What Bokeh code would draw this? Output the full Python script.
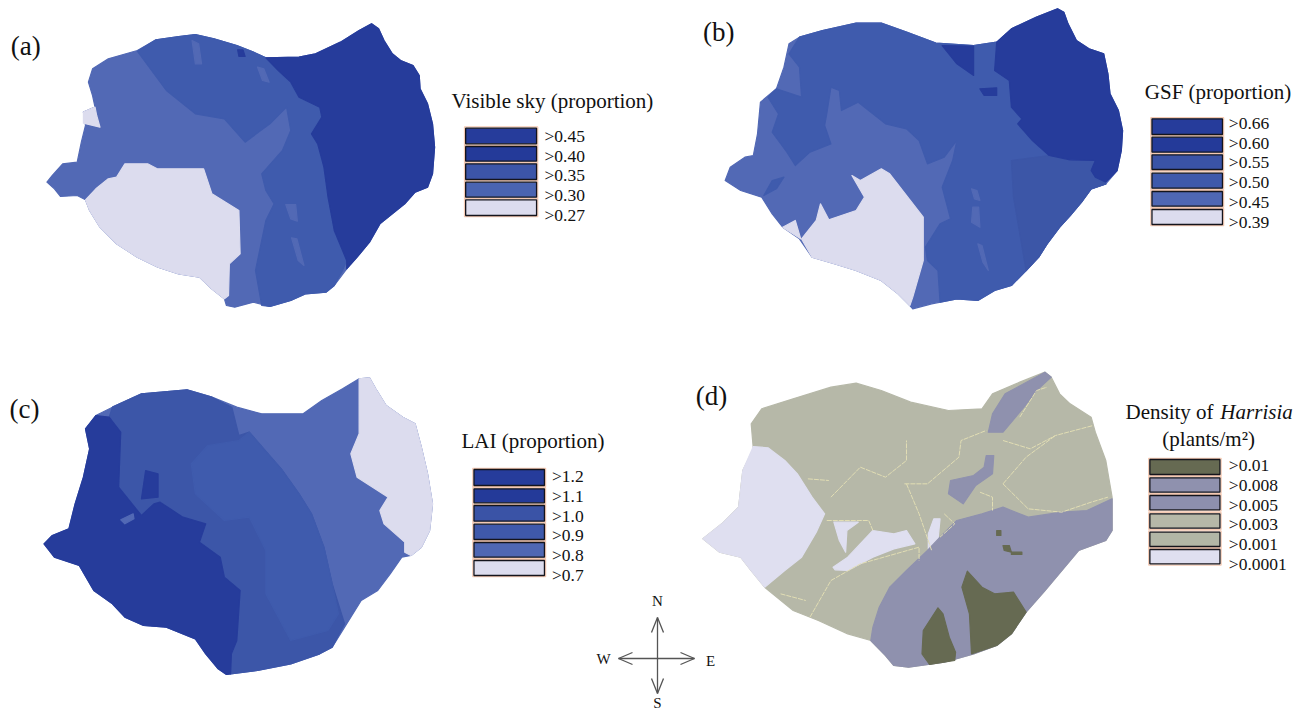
from bokeh.plotting import figure
from bokeh.models import Range1d
from bokeh.embed import file_html
from bokeh.resources import INLINE
from bokeh.core.properties import value

DARK, DEEP, MID, MID2, LIGHT, PALE = "#263c9b", "#243a99", "#3c56a8", "#3f5bad", "#5269b5", "#dcdcee"
SAGE, LAV, OLIVE, TRAIL = "#b6b8a8", "#8f91ae", "#666a52", "#e2deb4"
SERIF = "Liberation Serif"

# ---------- legends ----------
legend_a_labels = [">0.45", ">0.40", ">0.35", ">0.30", ">0.27"]
legend_a_colors = [DARK, DEEP, "#3c55a8", "#4a64b1", PALE]
legend_b_labels = [">0.66", ">0.60", ">0.55", ">0.50", ">0.45", ">0.39"]
legend_b_colors = [DARK, DEEP, "#3a53a6", "#3f59ab", "#4f67b3", PALE]
legend_c_labels = [">1.2", ">1.1", ">1.0", ">0.9", ">0.8", ">0.7"]
legend_c_colors = [DARK, DEEP, "#3a53a6", "#3f59ab", "#4f67b3", PALE]
legend_d_labels = [">0.01", ">0.008", ">0.005", ">0.003", ">0.001", ">0.0001"]
legend_d_colors = [OLIVE, LAV, "#8d8fae", SAGE, "#b2b6a6", "#dfdff0"]

# ---------- map regions (crop units) ----------
a_outline = [(895,70),(912,85),(925,120),(945,160),(965,180),(995,195),(1010,225),(1012,265),(1030,310),(1042,370),(1047,440),(1042,520),(1030,560),(1000,575),(975,610),(945,640),(915,670),(890,725),(860,770),(835,805),(805,855),(785,875),(735,880),(700,900),(650,918),(610,905),(565,920),(545,915),(540,895),(505,860),(480,830),(430,820),(380,800),(330,770),(280,730),(240,680),(215,630),(205,598),(185,585),(145,588),(130,565),(112,545),(125,525),(150,490),(185,485),(195,425),(205,375),(200,335),(228,320),(222,285),(212,245),(222,205),(260,175),(330,150),(375,118),(430,108),(470,102),(515,115),(570,135),(610,155),(640,172),(720,170),(760,160),(820,125),(865,90)]
a_mid = [(330,152),(375,118),(430,108),(470,102),(515,115),(570,135),(610,155),(640,172),(670,210),(700,250),(720,290),(770,320),(775,350),(750,395),(765,430),(780,500),(790,590),(805,690),(835,780),(825,810),(805,855),(785,875),(735,880),(700,900),(650,918),(630,915),(615,810),(640,660),(660,610),(640,570),(630,520),(680,450),(700,390),(690,320),(650,370),(590,425),(540,355),(470,340),(400,270)]
a_dark = [(640,172),(720,170),(760,160),(820,125),(865,90),(895,70),(912,85),(925,120),(945,160),(965,180),(995,195),(1010,225),(1012,265),(1030,310),(1042,370),(1047,440),(1042,520),(1030,560),(1000,575),(975,610),(945,640),(915,670),(890,725),(860,770),(835,805),(835,780),(805,690),(790,590),(780,500),(765,430),(750,400),(775,350),(770,320),(720,290),(700,245),(670,210)]
a_pale = [(300,490),(355,490),(378,505),(490,505),(510,580),(575,630),(578,760),(552,790),(550,885),(540,895),(505,860),(480,830),(430,820),(380,800),(330,770),(280,730),(240,680),(215,630),(205,598),(230,565),(260,535),(280,530)]
a_pale2 = [(200,335),(228,320),(232,345),(240,380),(200,368)]
a_slit1 = [(462,120),(478,130),(485,190),(470,190)]
a_slit2 = [(620,200),(635,205),(648,245),(632,240)]
a_slit3 = [(702,712),(715,715),(732,795),(718,780)]
a_slit4 = [(688,612),(712,612),(716,662),(700,655)]
a_spot = [(572,148),(585,148),(590,168),(575,168)]

b_outline = [(970,25),(985,35),(995,70),(1015,120),(1045,145),(1080,160),(1090,220),(1095,280),(1115,330),(1125,390),(1122,450),(1112,510),(1085,550),(1050,565),(1030,600),(1000,645),(975,680),(945,730),(925,770),(895,810),(860,855),(820,870),(780,900),(730,895),(670,910),(625,925),(618,915),(590,880),(550,840),(490,810),(440,790),(385,770),(355,715),(315,680),(290,640),(265,590),(215,570),(178,540),(190,500),(225,470),(245,465),(255,400),(262,305),(300,265),(318,200),(330,130),(355,110),(410,90),(490,68),(550,68),(610,95),(680,128),(770,135),(825,125),(860,85),(920,50)]
b_mid = [(355,110),(410,90),(490,68),(550,68),(610,95),(680,128),(770,135),(825,125),(855,240),(860,320),(885,355),(875,370),(910,420),(950,465),(1000,478),(1060,480),(1050,510),(1060,530),(1085,550),(1050,565),(1030,600),(1000,645),(975,680),(945,730),(925,770),(895,810),(860,855),(820,870),(780,900),(730,895),(690,905),(685,810),(660,780),(655,740),(690,670),(715,655),(695,560),(720,480),(730,420),(700,470),(660,490),(640,420),(610,385),(560,370),(495,305),(455,330),(450,270),(430,260),(420,340),(415,375),(430,430),(380,455),(345,495),(325,455),(290,395),(305,340),(280,290),(300,265),(360,290),(355,200),(330,160)]
b_mid2 = [(860,480),(950,465),(1000,478),(1060,480),(1050,510),(1060,530),(1085,550),(1050,565),(1030,600),(1000,645),(975,680),(945,730),(925,770),(895,810),(880,700),(865,590)]
b_dark = [(825,125),(860,85),(920,50),(970,25),(985,35),(995,70),(1015,120),(1045,145),(1080,160),(1090,220),(1095,280),(1115,330),(1125,390),(1122,450),(1112,510),(1085,545),(1060,530),(1050,510),(1060,480),(1000,478),(950,465),(910,420),(875,370),(885,355),(860,320),(855,240),(820,210)]
b_dark2 = [(695,135),(770,137),(770,225),(730,190)]
b_dark3 = [(785,265),(825,262),(825,285),(795,285)]
b_slit = [(270,585),(290,540),(318,530),(300,565)]
b_pale = [(480,525),(500,540),(550,505),(570,520),(650,650),(650,780),(625,890),(618,915),(590,880),(550,840),(490,810),(440,790),(385,770),(360,715),(395,660),(405,610),(425,658),(490,630),(510,590)]
b_pale2 = [(315,680),(345,660),(358,715)]
b_sliv1 = [(780,730),(790,735),(805,810),(792,785)]
b_sliv2 = [(765,565),(778,570),(785,600),(772,595)]
b_sliv3 = [(768,620),(782,620),(785,680),(765,665)]

c_outline = [(865,55),(890,52),(905,85),(930,135),(970,170),(1000,190),(1015,260),(1030,340),(1042,430),(1035,510),(1015,560),(990,585),(968,590),(940,640),(910,690),(870,720),(830,800),(800,860),(770,880),(700,910),(620,930),(545,942),(525,925),(495,880),(470,835),(400,800),(345,795),(300,770),(270,730),(225,690),(190,615),(130,590),(105,550),(125,525),(165,505),(180,430),(200,350),(215,265),(205,205),(230,165),(270,140),(340,100),(450,88),(510,110),(570,140),(630,160),(730,160),(775,120),(825,85)]
c_mid = [(262,170),(270,140),(340,100),(450,88),(510,110),(558,140),(575,225),(600,215),(680,330),(720,400),(750,460),(780,560),(800,670),(830,790),(800,860),(770,880),(700,910),(620,930),(555,940),(557,880),(570,840),(578,690),(540,650),(530,590),(480,545),(495,490),(440,470),(385,425),(370,430),(340,465),(285,380),(290,215)]
c_mid2 = [(460,310),(500,255),(575,240),(600,215),(680,330),(720,400),(750,460),(780,560),(800,670),(815,760),(790,810),(700,840),(640,700),(640,570),(600,470),(540,480),(470,400)]
c_dark = [(230,165),(262,170),(290,215),(285,380),(340,465),(370,430),(385,425),(440,470),(495,490),(480,545),(530,590),(540,650),(578,690),(570,840),(557,880),(555,940),(545,942),(525,925),(495,880),(470,835),(400,800),(345,795),(300,770),(270,730),(225,690),(190,615),(130,590),(105,550),(125,525),(165,505),(180,430),(200,350),(215,265),(205,205)]
c_dark2 = [(350,330),(380,340),(380,410),(340,415)]
c_light = [(290,478),(320,460),(322,475),(300,490)]
c_pale = [(865,55),(890,52),(905,85),(930,135),(970,170),(1000,190),(1015,260),(1030,340),(1042,430),(1035,510),(1015,560),(990,585),(975,575),(975,545),(925,490),(915,450),(935,410),(860,350),(845,280),(865,220)]

d_outline = [(940,35),(955,50),(975,100),(1000,130),(1050,170),(1060,215),(1085,300),(1100,410),(1100,510),(1085,540),(1020,570),(980,630),(940,690),(895,755),(860,820),(825,855),(770,880),(700,905),(615,920),(580,915),(560,885),(525,840),(470,820),(400,780),(340,750),(272,680),(240,630),(215,590),(165,575),(125,535),(170,490),(210,440),(220,330),(245,265),(240,190),(265,145),(340,115),(430,80),(490,68),(550,90),(620,125),(710,150),(790,145),(815,100),(880,65)]
d_pale = [(245,258),(280,262),(320,300),(350,340),(385,410),(415,460),(395,515),(360,590),(320,630),(272,680),(240,630),(215,590),(165,575),(125,535),(170,490),(210,440),(220,330)]
d_pale2 = [(435,620),(470,590),(530,510),(580,520),(610,510),(630,550),(580,565),(530,590),(470,630),(440,628)]
d_pale3 = [(437,485),(495,485),(468,510),(465,575),(450,540)]
d_pale4 = [(675,475),(690,475),(685,540),(662,565),(662,520)]
d_lav = [(1100,415),(1100,510),(1085,540),(1020,570),(980,630),(940,690),(895,755),(860,820),(825,855),(770,880),(700,905),(615,920),(580,915),(560,885),(525,840),(530,800),(545,740),(570,680),(610,630),(660,570),(690,530),(730,480),(790,460),(840,440),(900,470),(980,455),(1040,450)]
d_lav2 = [(940,35),(955,50),(920,90),(890,140),(840,215),(805,215),(815,160),(845,100)]
d_lav3 = [(800,285),(818,285),(815,340),(775,375),(745,430),(710,400),(715,360),(770,345),(795,320)]
d_olive = [(755,632),(790,680),(820,700),(865,695),(895,755),(860,820),(825,855),(765,880),(760,760),(742,680)]
d_olive2 = [(685,742),(697,760),(712,830),(727,875),(725,900),(665,912),(647,880),(650,810)]
d_olive3 = [(825,510),(835,510),(835,525),(825,525)]
d_olive4 = [(840,555),(855,555),(860,575),(843,570)]
d_olive5 = [(860,575),(885,575),(885,582),(860,582)]
d_trails = [
    [(375,355),(425,360)],
    [(430,410),(500,320),(560,350),(610,300),(610,240)],
    [(605,370),(660,370),(735,290),(740,240),(800,210)],
    [(840,240),(905,265),(965,225),(1055,195)],
    [(840,370),(895,290),(965,225)],
    [(840,370),(900,445),(980,455),(1050,425),(1090,410)],
    [(785,395),(815,410),(815,450)],
    [(610,370),(640,460),(670,570)],
    [(700,460),(725,490),(690,530)],
    [(310,700),(370,720)],
    [(380,770),(430,660),(500,610),(640,560),(640,600)],
    [(420,480),(520,480),(530,510)],
    [(880,170),(920,90),(945,80)],
]

# crop window: (offset x, offset y, x units per pixel, y units per pixel)
VIEW_A, VIEW_B = (0, 0, 2.412, 3.0), (650, 0, 2.383, 3.0)
VIEW_C, VIEW_D = (0, 360, 2.412, 3.0), (650, 360, 2.383, 3.0)

def X(v, x): return v[0] + x / v[2]
def Y(v, y): return v[1] + y / v[3]

p = figure(width=1300, height=712, x_range=Range1d(0, 1300), y_range=Range1d(712, 0),
           output_backend="svg", toolbar_location=None, min_border=0, outline_line_color=None)
p.axis.visible = False
p.grid.visible = False

def region(v, pts, color):
    xs = [X(v, a) for a, _ in pts]
    ys = [Y(v, b) for _, b in pts]
    p.patch(xs, ys, fill_color=color, line_color=color, line_width=1.2, line_join="round")

def legend(v, left, right, tops, bottoms, colors, labels, label_x, label_y):
    L, R = X(v, left), X(v, right)
    T = [Y(v, t) for t in tops]
    B = [Y(v, b) for b in bottoms]
    p.quad(left=L - 1.2, right=R + 1.2, top=[t - 1.2 for t in T], bottom=[b + 1.2 for b in B],
           fill_color=None, line_color="#f4c9b2", line_width=1.2)
    p.quad(left=L, right=R, top=T, bottom=B, fill_color=colors, line_color="#14141c", line_width=1.3)
    p.text(x=[X(v, label_x)] * len(labels), y=[Y(v, y) for y in label_y], text=labels,
           text_font=value(SERIF), text_font_size="17.5px", text_baseline="middle", text_color="#111111")

def label(v, x, y, s, size="17.5px", style="normal", align="left"):
    p.text(x=[X(v, x)], y=[Y(v, y)], text=[s], text_font=value(SERIF), text_font_size=size,
           text_font_style=style, text_baseline="middle", text_align=align, text_color="#111111")

# panel a
for pts, col in [(a_outline, LIGHT), (a_mid, MID2), (a_dark, DARK), (a_pale, PALE), (a_pale2, PALE),
                 (a_slit1, LIGHT), (a_slit2, LIGHT), (a_slit3, LIGHT), (a_slit4, LIGHT), (a_spot, DARK)]:
    region(VIEW_A, pts, col)
# panel b
for pts, col in [(b_outline, LIGHT), (b_mid, MID2), (b_mid2, "#3c56a7"), (b_dark, DARK), (b_dark2, DARK),
                 (b_dark3, DARK), (b_slit, MID2), (b_pale, PALE), (b_pale2, PALE),
                 (b_sliv1, LIGHT), (b_sliv2, LIGHT), (b_sliv3, LIGHT)]:
    region(VIEW_B, pts, col)
# panel c
for pts, col in [(c_outline, LIGHT), (c_mid, MID), (c_mid2, MID2), (c_dark, DARK), (c_dark2, DARK),
                 (c_light, LIGHT), (c_pale, PALE)]:
    region(VIEW_C, pts, col)
# panel d
for pts, col in [(d_outline, SAGE), (d_pale, "#dfdff0"), (d_pale2, "#dfdff0"), (d_pale3, "#dfdff0"),
                 (d_pale4, "#dfdff0"), (d_lav, LAV), (d_lav2, LAV), (d_lav3, LAV), (d_olive, OLIVE),
                 (d_olive2, OLIVE), (d_olive3, OLIVE), (d_olive4, OLIVE), (d_olive5, OLIVE)]:
    region(VIEW_D, pts, col)
p.multi_line([[X(VIEW_D, a) for a, _ in t] for t in d_trails], [[Y(VIEW_D, b) for _, b in t] for t in d_trails],
             line_color=TRAIL, line_width=1, line_dash="5 1")

# legends
legend(VIEW_A, 1122, 1293, [383, 438, 490, 545, 598], [430, 482, 537, 590, 645],
       legend_a_colors, legend_a_labels, 1312, [405, 465, 523, 582, 642])
legend(VIEW_B, 1195, 1363, [355, 410, 463, 518, 573, 627], [402, 455, 507, 563, 617, 672],
       legend_b_colors, legend_b_labels, 1378, [367, 427, 485, 544, 604, 663])
legend(VIEW_C, 1142, 1312, [327, 385, 435, 491, 546, 600], [375, 427, 482, 537, 590, 645],
       legend_c_colors, legend_c_labels, 1330, [346, 405, 465, 523, 583, 643])
legend(VIEW_D, 1190, 1357, [297, 352, 405, 460, 515, 567], [342, 395, 448, 503, 558, 610],
       legend_d_colors, legend_d_labels, 1378, [314, 373, 433, 491, 550, 609])

# titles
label(VIEW_A, 1088, 300, "Visible sky (proportion)", "21px")
label(VIEW_B, 1178, 275, "GSF (proportion)", "21px")
label(VIEW_C, 1112, 240, "LAI (proportion)", "21px")
label(VIEW_D, 1132, 155, "Density of ", "21px")
label(VIEW_D, 1358, 155, "Harrisia", "21px", "italic")
label(VIEW_D, 1330, 235, "(plants/m²)", "21px", align="center")

# panel letters
label(VIEW_A, 25, 135, "(a)", "27px")
label(VIEW_B, 125, 95, "(b)", "27px")
label(VIEW_C, 22, 145, "(c)", "27px")
label(VIEW_D, 108, 105, "(d)", "27px")

# compass
arrow_lines_x = [[618, 694], [657, 657], [632, 618, 632], [680, 694, 680], [651, 657, 663], [651, 657, 663]]
arrow_lines_y = [[658, 658], [617, 693], [652, 658, 664], [652, 658, 664], [632, 617, 632], [678, 693, 678]]
p.multi_line(arrow_lines_x, arrow_lines_y, line_color="#555555", line_width=1.3)
for x, y, s in [(657, 600, "N"), (710, 660, "E"), (603, 658, "W"), (657, 702, "S")]:
    p.text(x=[x], y=[y], text=[s], text_font=value(SERIF), text_font_size="15px",
           text_baseline="middle", text_align="center", text_color="#111111")

open("out.html", "w").write(file_html(p, INLINE))
